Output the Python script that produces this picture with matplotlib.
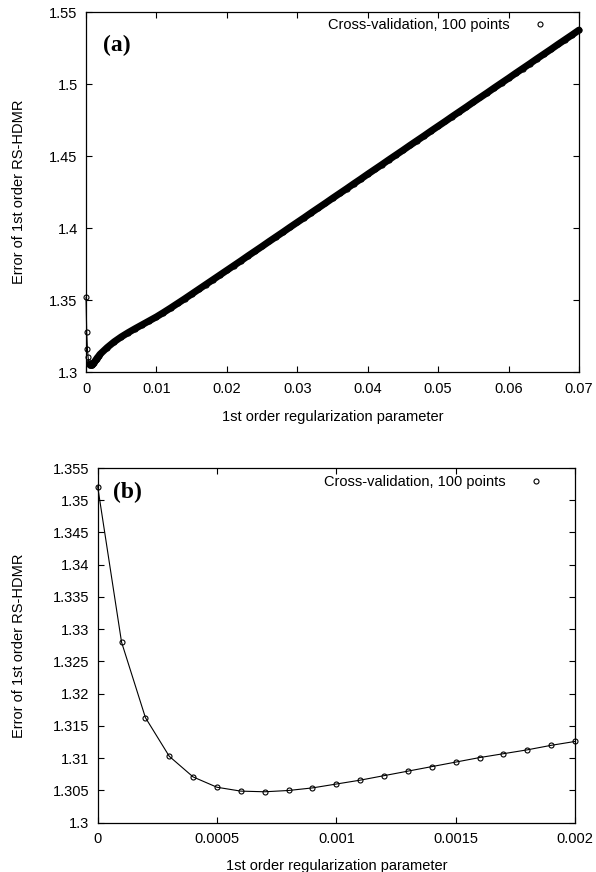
import matplotlib
matplotlib.use("Agg")
import matplotlib.pyplot as plt
from matplotlib.lines import Line2D
from matplotlib.ticker import FuncFormatter
import numpy as np

plt.rcParams['font.family'] = ['Liberation Sans', 'DejaVu Sans']

# cross-validation error, fine scan of the regularization parameter
reg_fine = [0.0, 0.0001, 0.0002, 0.0003, 0.0004, 0.0005, 0.0006, 0.0007,
            0.0008, 0.0009, 0.001, 0.0011, 0.0012, 0.0013, 0.0014, 0.0015,
            0.0016, 0.0017, 0.0018, 0.0019, 0.002]
err_fine = [1.3521, 1.3280, 1.3163, 1.3103, 1.3071, 1.3055, 1.3049, 1.3048,
            1.3050, 1.3054, 1.3060, 1.3066, 1.3073, 1.3080, 1.3087, 1.3094,
            1.3101, 1.3107, 1.3113, 1.3120, 1.3126]

# coarse scan up to 0.07
reg_coarse = [0.003, 0.004, 0.005, 0.006, 0.007, 0.008, 0.009, 0.010,
              0.011, 0.012, 0.013, 0.014, 0.015, 0.016, 0.017, 0.018, 0.019,
              0.020, 0.021, 0.022, 0.023, 0.024, 0.025, 0.026, 0.027, 0.028,
              0.029, 0.030, 0.031, 0.032, 0.033, 0.034, 0.035, 0.036, 0.037,
              0.038, 0.039, 0.040, 0.041, 0.042, 0.043, 0.044, 0.045, 0.046,
              0.047, 0.048, 0.049, 0.050, 0.051, 0.052, 0.053, 0.054, 0.055,
              0.056, 0.057, 0.058, 0.059, 0.060, 0.061, 0.062, 0.063, 0.064,
              0.065, 0.066, 0.067, 0.068, 0.069, 0.070]
err_coarse = [1.3172, 1.3212, 1.3246, 1.3276, 1.3304, 1.3331, 1.3358, 1.3385,
              1.3415, 1.3446, 1.3478, 1.3510, 1.3543, 1.3576, 1.3609, 1.3642,
              1.3675, 1.3708, 1.3741, 1.3774, 1.3808, 1.3841, 1.3874, 1.3908,
              1.3941, 1.3974, 1.4008, 1.4041, 1.4074, 1.4108, 1.4141, 1.4174,
              1.4208, 1.4241, 1.4274, 1.4308, 1.4341, 1.4375, 1.4408, 1.4441,
              1.4475, 1.4508, 1.4541, 1.4575, 1.4608, 1.4641, 1.4675, 1.4708,
              1.4741, 1.4775, 1.4808, 1.4841, 1.4875, 1.4908, 1.4941, 1.4975,
              1.5008, 1.5041, 1.5075, 1.5108, 1.5141, 1.5175, 1.5208, 1.5241,
              1.5275, 1.5308, 1.5341, 1.5375]

legend_label = "Cross-validation, 100 points"
x_label = "1st order regularization parameter"
y_label = "Error of 1st order RS-HDMR"

ticks_a_x = [0, 0.01, 0.02, 0.03, 0.04, 0.05, 0.06, 0.07]
ticks_a_y = [1.3, 1.35, 1.4, 1.45, 1.5, 1.55]
ticks_b_x = [0, 0.0005, 0.001, 0.0015, 0.002]
ticks_b_y = [1.3, 1.305, 1.31, 1.315, 1.32, 1.325, 1.33, 1.335, 1.34,
             1.345, 1.35, 1.355]

reg_all = np.array(reg_fine + reg_coarse)
err_all = np.array(err_fine + err_coarse)

fig = plt.figure(figsize=(5.96, 8.72), dpi=100)
ax1 = fig.add_axes([0.1443, 0.5730, 0.8272, 0.4132])
ax2 = fig.add_axes([0.1639, 0.0565, 0.8008, 0.4068])

gfmt = FuncFormatter(lambda v, p: "%g" % round(v, 6))
mk = dict(marker='o', markersize=3.6, markerfacecolor='none',
          markeredgecolor='k', markeredgewidth=0.8)
fs = 10.5


def style(ax, xt, yt, ylab_x, xlab_y, leg_xy):
    ax.set_xticks(xt)
    ax.set_yticks(yt)
    ax.set_xlim(xt[0], xt[-1])
    ax.set_ylim(yt[0], yt[-1])
    ax.xaxis.set_major_formatter(gfmt)
    ax.yaxis.set_major_formatter(gfmt)
    ax.tick_params(direction='in', top=True, right=True, length=4,
                   width=0.8, labelsize=fs)
    ax.tick_params(axis='x', pad=7)
    ax.tick_params(axis='y', pad=6)
    for s in ax.spines.values():
        s.set_linewidth(0.9)
    ax.set_xlabel(x_label, fontsize=fs)
    ax.set_ylabel(y_label, fontsize=fs)
    ax.xaxis.set_label_coords(0.5, xlab_y)
    ax.yaxis.set_label_coords(ylab_x, 0.5)
    h = Line2D([], [], ls='none', **mk)
    ax.legend([h], [legend_label], loc='center right', bbox_to_anchor=leg_xy,
              frameon=False, markerfirst=False, fontsize=fs,
              handlelength=1.0, handletextpad=1.55, borderaxespad=0.0)


# (a) full range: dense points merge into a thick band
ax1.plot(reg_all, err_all, color='k', lw=0.8, clip_on=False, **mk)
band = reg_all >= 0.0005
ax1.plot(reg_all[band], err_all[band], color='k', lw=5.0,
         solid_capstyle='round', clip_on=False)
style(ax1, ticks_a_x, ticks_a_y, -0.122, -0.105, (0.947, 0.964))
ax1.text(0.035, 0.908, "(a)", transform=ax1.transAxes, fontsize=17,
         fontweight='bold', family='Liberation Serif', va='center')

# (b) zoom on small regularization values
ax2.plot(reg_fine, err_fine, color='k', lw=0.8, clip_on=False, **mk)
style(ax2, ticks_b_x, ticks_b_y, -0.150, -0.102, (0.945, 0.961))
ax2.text(0.032, 0.932, "(b)", transform=ax2.transAxes, fontsize=17,
         fontweight='bold', family='Liberation Serif', va='center')

fig.savefig("out.png", dpi=100)
